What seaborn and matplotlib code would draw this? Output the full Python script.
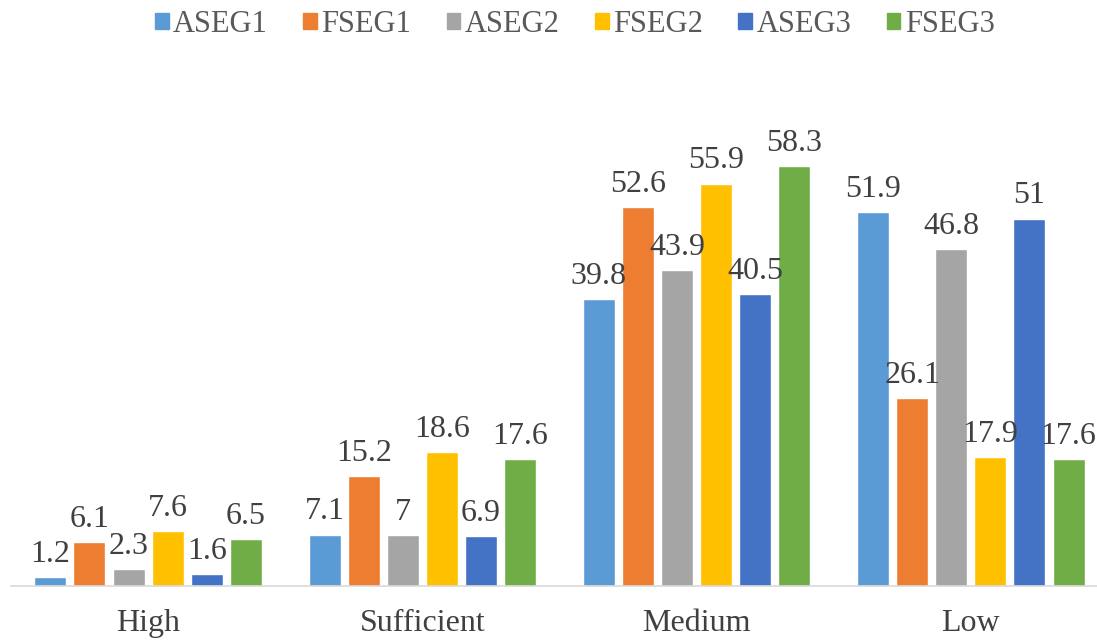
import pandas as pd
import matplotlib
matplotlib.use('Agg')
import matplotlib.pyplot as plt
import seaborn as sns

levels = ['High', 'Sufficient', 'Medium', 'Low']
groups = ['ASEG1', 'FSEG1', 'ASEG2', 'FSEG2', 'ASEG3', 'FSEG3']
aseg1 = [1.2, 7.1, 39.8, 51.9]
fseg1 = [6.1, 15.2, 52.6, 26.1]
aseg2 = [2.3, 7, 43.9, 46.8]
fseg2 = [7.6, 18.6, 55.9, 17.9]
aseg3 = [1.6, 6.9, 40.5, 51]
fseg3 = [6.5, 17.6, 58.3, 17.6]
colors = ['#5B9BD5', '#ED7D31', '#A5A5A5', '#FFC000', '#4472C4', '#70AD47']

series = [aseg1, fseg1, aseg2, fseg2, aseg3, fseg3]
rows = []
for g, vals in zip(groups, series):
    for lv, v in zip(levels, vals):
        rows.append({'level': lv, 'group': g, 'value': v})
df = pd.DataFrame(rows)

sns.set_style('white')
plt.rcParams['font.family'] = ['Liberation Serif', 'DejaVu Serif']

fig = plt.figure(figsize=(10.97, 6.41), dpi=100)
ax = fig.add_axes([0.010, 0.086, 0.99, 0.786])

sns.barplot(data=df, x='level', y='value', hue='group', order=levels,
            hue_order=groups, palette=colors, width=0.855, gap=0.18,
            saturation=1, legend=False, ax=ax)

for cont in ax.containers:
    ax.bar_label(cont, fmt='%g', fontsize=23, color='#404040', padding=6)

ax.set_xlim(-0.5, 3.46)
ax.set_ylim(0, 70)
ax.set_xlabel('')
ax.set_ylabel('')
ax.set_yticks([])
for s in ['top', 'left', 'right']:
    ax.spines[s].set_visible(False)
ax.spines['bottom'].set_color('#D9D9D9')
ax.spines['bottom'].set_linewidth(1.2)
ax.tick_params(axis='x', length=0, pad=17, labelsize=23, labelcolor='#404040')

handles = [plt.Rectangle((0, 0), 1, 1, color=c) for c in colors]
fig.legend(handles, groups, loc='center', bbox_to_anchor=(0.524, 0.962), ncol=6,
           frameon=False, fontsize=22, handlelength=0.45, handleheight=0.45,
           handletextpad=0.15, columnspacing=1.15, labelcolor='#595959')

fig.savefig('out.png', dpi=100)
